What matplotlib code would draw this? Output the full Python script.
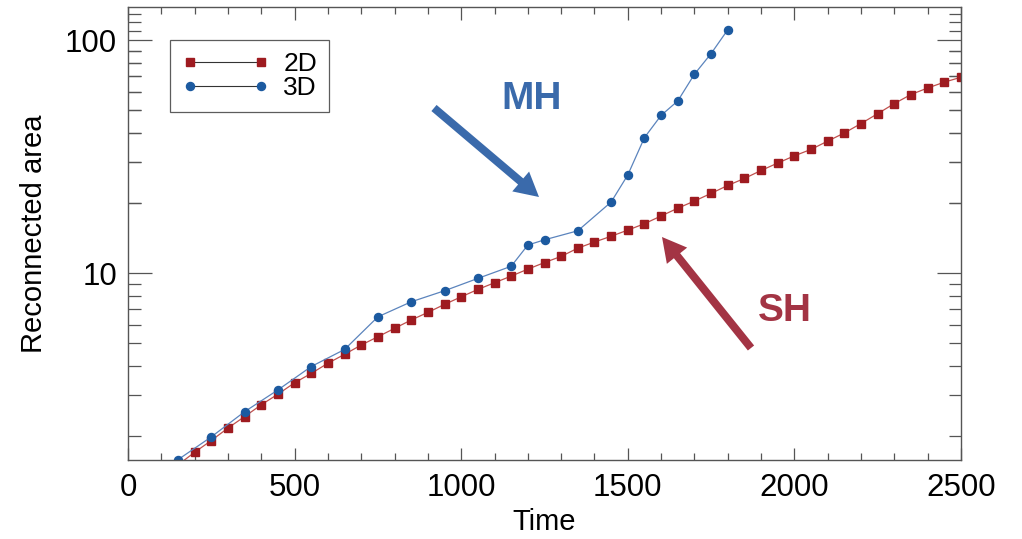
import matplotlib
matplotlib.use("Agg")
import matplotlib.pyplot as plt
from matplotlib.patches import FancyArrow
from matplotlib.transforms import IdentityTransform
from matplotlib.ticker import FixedLocator, NullFormatter, FixedFormatter

plt.rcParams['font.family'] = ['Liberation Sans', 'DejaVu Sans']

# ---- data ----
time_2d = [150, 200, 250, 300, 350, 400, 450, 500, 550, 600, 650, 700, 750, 800,
           850, 900, 950, 1000, 1050, 1100, 1150, 1200, 1250, 1300, 1350, 1400,
           1450, 1500, 1550, 1600, 1650, 1700, 1750, 1800, 1850, 1900, 1950, 2000,
           2050, 2100, 2150, 2200, 2250, 2300, 2350, 2400, 2450, 2500]
area_2d = [1.50, 1.70, 1.91, 2.16, 2.42, 2.72, 3.02, 3.38, 3.71, 4.10, 4.48, 4.91,
           5.33, 5.79, 6.29, 6.78, 7.34, 7.91, 8.51, 9.09, 9.71, 10.4, 11.1, 11.8,
           12.8, 13.6, 14.4, 15.3, 16.3, 17.6, 19.0, 20.4, 22.0, 23.8, 25.5, 27.6,
           29.7, 31.9, 34.0, 36.9, 40.0, 43.9, 48.4, 53.5, 58.5, 62.4, 66.1, 69.4]

time_3d = [150, 250, 350, 450, 550, 650, 750, 850, 950, 1050, 1150, 1200, 1250,
           1350, 1450, 1500, 1550, 1600, 1650, 1700, 1750, 1800]
area_3d = [1.58, 1.98, 2.54, 3.15, 3.97, 4.70, 6.49, 7.53, 8.40, 9.49, 10.7, 13.2,
           13.9, 15.2, 20.2, 26.4, 38.2, 47.6, 54.9, 71.5, 87.7, 111.0]

series_labels = ["2D", "3D"]
x_ticks = [0, 500, 1000, 1500, 2000, 2500]
y_ticks = [10, 100]

W, H = 1022, 539
fig = plt.figure(figsize=(W / 100, H / 100), dpi=100)
ax = fig.add_axes([128 / W, 1 - 460 / H, (961 - 128) / W, (460 - 7) / H])

ax.plot(time_2d, area_2d, color='#c0504d', lw=0.9, marker='s', ms=5.6,
        mfc='#9e1b20', mec='#9e1b20', label=series_labels[0])
ax.plot(time_3d, area_3d, color='#5b84bd', lw=0.9, marker='o', ms=5.8,
        mfc='#1c5aa0', mec='#1c5aa0', label=series_labels[1])

ax.set_yscale('log')
ax.set_xlim(0, 2500)
ax.set_ylim(1.575, 139)

ax.xaxis.set_major_locator(FixedLocator(x_ticks))
ax.xaxis.set_minor_locator(FixedLocator(range(0, 2501, 100)))
ax.yaxis.set_major_locator(FixedLocator(y_ticks))
ax.yaxis.set_major_formatter(FixedFormatter([str(v) for v in y_ticks]))
ax.yaxis.set_minor_locator(FixedLocator([v * d for d in (1, 10) for v in range(2, 10)]
                                        + [v for v in range(20, 140, 10) if v != 100]))
ax.yaxis.set_minor_formatter(NullFormatter())

spine_col = '#555555'
for s in ax.spines.values():
    s.set_color(spine_col)
    s.set_linewidth(1.0)
ax.tick_params(which='both', direction='in', top=True, right=True, color=spine_col,
               labelsize=22.5, width=0.9)
ax.tick_params(axis='x', which='major', length=9, pad=9)
ax.tick_params(axis='x', which='minor', length=5)
ax.tick_params(axis='y', which='major', length=17, pad=8)
ax.tick_params(axis='y', which='minor', length=9)

ax.set_xlabel('Time', fontsize=21, labelpad=4)
ax.set_ylabel('Reconnected area', fontsize=21, labelpad=12)

leg = ax.legend(loc='upper left', bbox_to_anchor=((170 - 128) / 833, (460 - 40) / 453),
                numpoints=2, handlelength=3.3, fontsize=19, frameon=True, fancybox=False,
                labelspacing=0.0, handletextpad=0.55, borderpad=0.45, borderaxespad=0)
leg.get_frame().set_edgecolor('#333333')
leg.get_frame().set_linewidth(0.9)
for line in leg.get_lines():
    line.set_color('#333333')
    line.set_linewidth(0.8)

# ---- annotations (arrows in pixel coordinates) ----
def arrow(tail, tip, color):
    x0, y0 = tail[0], H - tail[1]
    x1, y1 = tip[0], H - tip[1]
    a = FancyArrow(x0, y0, x1 - x0, y1 - y0, width=8, head_width=26, head_length=24,
                   length_includes_head=True, color=color, transform=IdentityTransform(),
                   lw=0)
    fig.add_artist(a)

arrow((434, 108), (539, 197), '#3a6aab')
arrow((751, 348), (662, 237), '#a33444')

fig.text(532 / W, 1 - 99 / H, 'MH', color='#3a6aab', fontsize=28, fontweight='bold',
         ha='center', va='center')
fig.text(785 / W, 1 - 311 / H, 'SH', color='#a33444', fontsize=28, fontweight='bold',
         ha='center', va='center')

fig.savefig('out.png', dpi=100)
